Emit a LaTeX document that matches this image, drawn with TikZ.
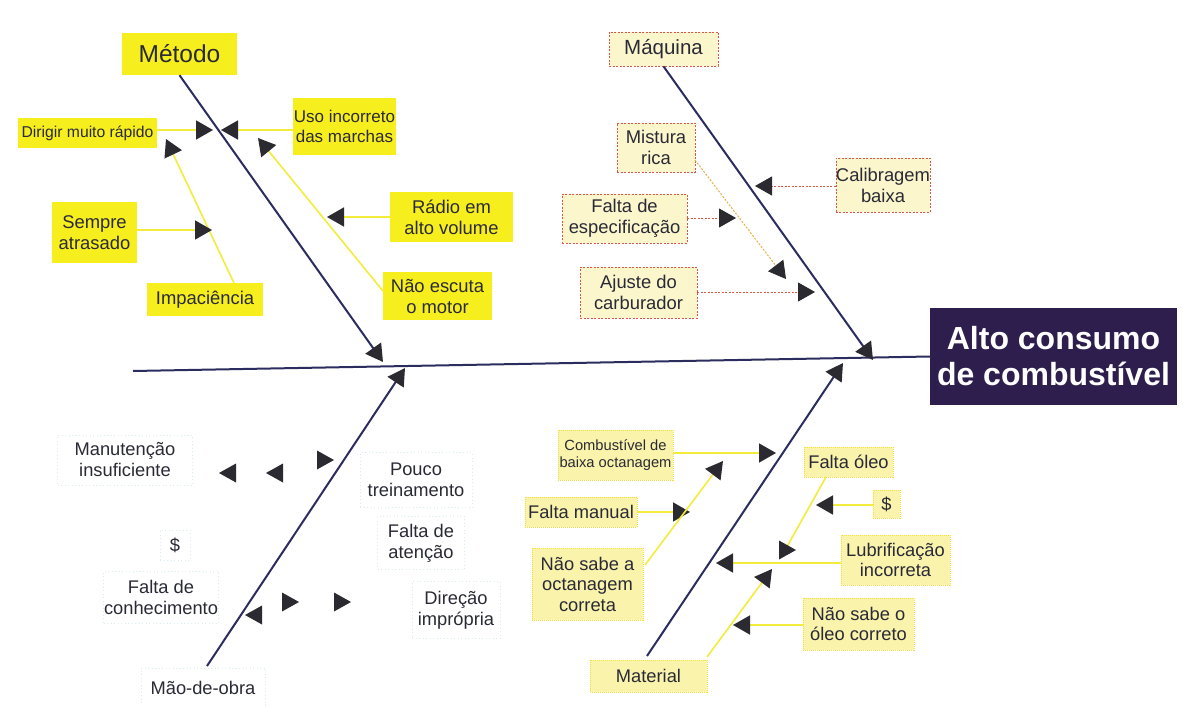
\documentclass[tikz,border=0pt]{standalone}
\usepackage{fontspec}
\setmainfont{Liberation Sans}
\usetikzlibrary{arrows.meta}

\definecolor{navy}{HTML}{2B2D5E}
\definecolor{bright}{HTML}{F7EE1E}
\definecolor{pale}{HTML}{FBF6CC}
\definecolor{matfill}{HTML}{F9F3AC}
\definecolor{matedge}{HTML}{F0E040}
\definecolor{dashred}{HTML}{D9564A}
\definecolor{mixline}{HTML}{E8B040}
\definecolor{txt}{HTML}{2A2A36}
\definecolor{tipc}{HTML}{2A2A30}
\definecolor{effect}{HTML}{2E1E4E}
\definecolor{ghost}{HTML}{D8EAEF}
\definecolor{yline}{HTML}{F4EC3C}

\tikzset{
  txtbase/.style={align=center, text=txt, inner sep=0pt},
  metbox/.style={txtbase, fill=bright, font=\fontsize{18.4}{21}\selectfont},
  maqbox/.style={txtbase, fill=pale, draw=dashred, dash pattern=on 2pt off 1.5pt, line width=0.7pt, font=\fontsize{18.4}{21}\selectfont},
  matbox/.style={txtbase, fill=matfill, draw=matedge, dash pattern=on 1pt off 1pt, line width=0.7pt, font=\fontsize{18.3}{20.5}\selectfont},
  maobox/.style={txtbase, draw=ghost, dash pattern=on 1pt off 2.5pt, line width=0.7pt, font=\fontsize{18.3}{21}\selectfont},
  bone/.style={draw=navy, line width=2pt},
  tipped/.style={-{Triangle[length=17pt,width=19pt,color=tipc]}},
  yellowlink/.style={draw=yline, line width=1.6pt, tipped},
  redlink/.style={draw=dashred, line width=1pt, dash pattern=on 2pt off 1.5pt, tipped},
  orangelink/.style={draw=mixline, line width=1pt, dash pattern=on 2pt off 1.5pt, tipped},
  tri/.pic={\fill[tipc] (0,0) -- (-17,9.5) -- (-17,-9.5) -- cycle;}
}

\begin{document}
\begin{tikzpicture}[x=1pt, y=-1pt]
\useasboundingbox (0,0) rectangle (1183,706);
\fill[white] (0,0) rectangle (1183,706);

% ---------- effect and spine ----------
\node[fill=effect, text=white, minimum width=247pt, minimum height=97pt, inner sep=0pt,
      align=center, font=\bfseries\fontsize{32}{36}\selectfont] (effect) at (1053.5,356.5)
      {Alto consumo\\de combustível};
\coordinate (tail) at (133,371);
\draw[bone] (tail) -- (effect.west);

% ---------- Método ----------
\node[metbox, minimum width=115pt, minimum height=42pt, font=\fontsize{24.5}{28}\selectfont] (metodo) at (179.5,54) {Método};
\coordinate (metodoTip) at (383,362);
\draw[bone, tipped] (metodo.south) -- (metodoTip);

\node[metbox, minimum width=139pt, minimum height=30pt, font=\fontsize{15.7}{18}\selectfont] (dirigir) at (87.5,133) {Dirigir muito rápido};
\node[metbox, minimum width=103pt, minimum height=57pt, font=\fontsize{17}{20}\selectfont] (uso) at (344.5,126.5) {Uso incorreto\\das marchas};
\node[metbox, minimum width=85pt, minimum height=61pt] (sempre) at (94.5,232.5) {Sempre\\atrasado};
\node[metbox, minimum width=116pt, minimum height=33pt] (impac) at (205,299.5) {Impaciência};
\node[metbox, minimum width=123pt, minimum height=50pt] (radio) at (451.5,217) {Rádio em\\alto volume};
\node[metbox, minimum width=109pt, minimum height=48pt] (escuta) at (437.5,296) {Não escuta\\o motor};

\coordinate (dirigirTip) at (213,130);
\coordinate (usoTip) at (221,130);
\coordinate (sempreTip) at (212,230);
\coordinate (impacStart) at (234,283);
\coordinate (impacTip) at (166,139);
\coordinate (radioTip) at (327,217);
\coordinate (escutaStart) at (383,291);
\coordinate (escutaTip) at (258,138);

\draw[yellowlink] (dirigir.east |- dirigirTip) -- (dirigirTip);
\draw[yellowlink] (uso.west |- usoTip) -- (usoTip);
\draw[yellowlink] (impacStart) -- (impacTip);
\draw[yellowlink] (sempre.east |- sempreTip) -- (sempreTip);
\draw[yellowlink] (escutaStart) -- (escutaTip);
\draw[yellowlink] (radio.west |- radioTip) -- (radioTip);

% ---------- Máquina ----------
\node[maqbox, minimum width=109pt, minimum height=34pt, font=\fontsize{20.5}{24}\selectfont] (maquina) at (663.5,49) {Máquina};
\coordinate (maquinaTip) at (873,360);
\draw[bone, tipped] (maquina.south) -- (maquinaTip);

\node[maqbox, minimum width=78pt, minimum height=49pt] (mistura) at (656,147.5) {Mistura\\rica};
\node[maqbox, minimum width=94pt, minimum height=54pt] (calib) at (883,185) {Calibragem\\baixa};
\node[maqbox, minimum width=125pt, minimum height=49pt] (espec) at (624.5,218.5) {Falta de\\especificação};
\node[maqbox, minimum width=117pt, minimum height=51pt] (ajuste) at (638.5,292.5) {Ajuste do\\carburador};

\coordinate (misturaStart) at (695,160);
\coordinate (misturaTip) at (786,279);
\coordinate (calibTip) at (755,186);
\coordinate (especTip) at (736,218);
\coordinate (ajusteTip) at (815,292);

\draw[orangelink] (misturaStart) -- (misturaTip);
\draw[redlink] (calib.west |- calibTip) -- (calibTip);
\draw[redlink] (espec.east |- especTip) -- (especTip);
\draw[redlink] (ajuste.east |- ajusteTip) -- (ajusteTip);

% ---------- Mão-de-obra ----------
\node[maobox, minimum width=124pt, minimum height=40pt] (maodeobra) at (203,688) {Mão-de-obra};
\coordinate (maoStart) at (207,666);
\coordinate (maoTip) at (405,368);
\draw[bone, tipped] (maoStart) -- (maoTip);

\node[maobox, minimum width=135pt, minimum height=50pt] (manut) at (125,460) {Manutenção\\insuficiente};
\node[maobox, minimum width=112pt, minimum height=55pt] (pouco) at (416,480) {Pouco\\treinamento};
\node[maobox, minimum width=30pt, minimum height=30pt] (cifraA) at (175,545) {\$};
\node[maobox, minimum width=115pt, minimum height=52pt] (conhec) at (161,597) {Falta de\\conhecimento};
\node[maobox, minimum width=87pt, minimum height=53pt] (atencao) at (421,543) {Falta de\\atenção};
\node[maobox, minimum width=88pt, minimum height=57pt] (direcao) at (456,610) {Direção\\imprópria};

\pic[rotate=180] at (219,473) {tri};
\pic[rotate=180] at (266,473) {tri};
\pic at (334,460) {tri};
\pic[rotate=180] at (245,615) {tri};
\pic at (299,602) {tri};
\pic at (351,602) {tri};

% ---------- Material ----------
\node[matbox, minimum width=117pt, minimum height=32pt] (material) at (648.5,676) {Material};
\coordinate (matStart) at (647,656);
\coordinate (matTip) at (843,363);
\draw[bone, tipped] (matStart) -- (matTip);

\node[matbox, minimum width=115pt, minimum height=50pt, font=\fontsize{14.7}{17}\selectfont] (octan) at (615.5,455) {Combustível de\\baixa octanagem};
\node[matbox, minimum width=112pt, minimum height=30pt] (manual) at (581,512) {Falta manual};
\node[matbox, minimum width=111pt, minimum height=72pt] (naosabeA) at (587.5,584) {Não sabe a\\octanagem\\correta};
\node[matbox, minimum width=89pt, minimum height=30pt] (oleo) at (848.5,462) {Falta óleo};
\node[matbox, minimum width=27pt, minimum height=28pt] (cifraB) at (886.5,504) {\$};
\node[matbox, minimum width=109pt, minimum height=50pt] (lubri) at (895.5,560) {Lubrificação\\incorreta};
\node[matbox, minimum width=111pt, minimum height=52pt] (naosabeO) at (858.5,624) {Não sabe o\\óleo correto};

\coordinate (octanTip) at (776,453);
\coordinate (manualTip) at (690,512);
\coordinate (naosabeAStart) at (645,565);
\coordinate (naosabeATip) at (723,461);
\coordinate (oleoStart) at (826,477);
\coordinate (oleoEnd) at (784,552);
\coordinate (cifraBTip) at (816,505);
\coordinate (lubriTip) at (716,563);
\coordinate (matLineStart) at (707,657);
\coordinate (matLineTip) at (772,569);
\coordinate (naosabeOTip) at (733,625);

\draw[yellowlink] (octan.east |- octanTip) -- (octanTip);
\draw[yellowlink] (manual.east |- manualTip) -- (manualTip);
\draw[yellowlink] (naosabeAStart) -- (naosabeATip);
\draw[draw=yline, line width=1.6pt] (oleoStart) -- (oleoEnd);
\pic at (796,550) {tri};
\draw[yellowlink] (cifraB.west |- cifraBTip) -- (cifraBTip);
\draw[yellowlink] (lubri.west |- lubriTip) -- (lubriTip);
\draw[yellowlink] (matLineStart) -- (matLineTip);
\draw[yellowlink] (naosabeO.west |- naosabeOTip) -- (naosabeOTip);
\end{tikzpicture}
\end{document}
